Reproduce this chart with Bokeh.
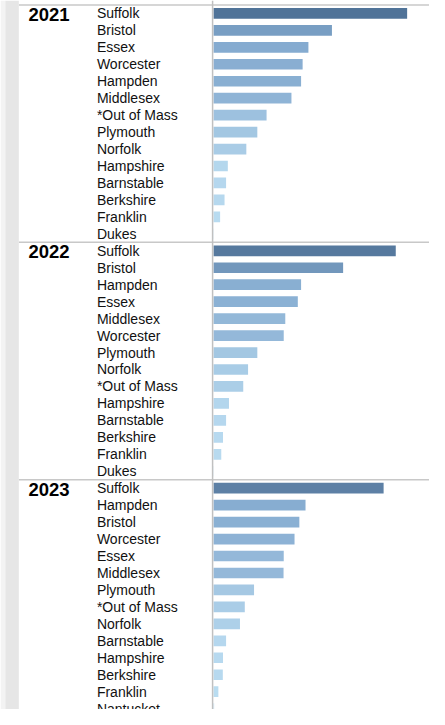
from bokeh.plotting import figure
from bokeh.models import Range1d, ColumnDataSource, Span, BoxAnnotation, LinearColorMapper
from bokeh.transform import transform
from bokeh.embed import file_html
from bokeh.resources import INLINE
from bokeh.core.properties import value

# ---------------- data ----------------
years = ["2021", "2022", "2023"]

counties_2021 = ["Suffolk", "Bristol", "Essex", "Worcester", "Hampden", "Middlesex",
                 "*Out of Mass", "Plymouth", "Norfolk", "Hampshire", "Barnstable",
                 "Berkshire", "Franklin", "Dukes"]
values_2021 = [1004, 614, 492, 462, 454, 404, 275, 227, 170, 74, 65, 57, 34, 1]

counties_2022 = ["Suffolk", "Bristol", "Hampden", "Essex", "Middlesex", "Worcester",
                 "Plymouth", "Norfolk", "*Out of Mass", "Hampshire", "Barnstable",
                 "Berkshire", "Franklin", "Dukes"]
values_2022 = [945, 672, 454, 437, 372, 364, 227, 179, 154, 80, 65, 49, 40, 1]

counties_2023 = ["Suffolk", "Hampden", "Bristol", "Worcester", "Essex", "Middlesex",
                 "Plymouth", "*Out of Mass", "Norfolk", "Barnstable", "Hampshire",
                 "Berkshire", "Franklin", "Nantucket", "Dukes"]
values_2023 = [882, 477, 445, 420, 364, 363, 210, 162, 137, 65, 49, 48, 25, 3, 1]

sections = [(years[0], counties_2021, values_2021),
            (years[1], counties_2022, values_2022),
            (years[2], counties_2023, values_2023)]

# ---------------- build rows ----------------
rows_y, rows_county, rows_value = [], [], []
year_y, year_text, sep_y = [], [], []
offset = 0
for yr, cs, vs in sections:
    year_y.append(offset)
    year_text.append(yr)
    sep_y.append(offset - 0.5)
    for j, (c, v) in enumerate(zip(cs, vs)):
        rows_y.append(offset + j)
        rows_county.append(c)
        rows_value.append(v)
    offset += len(cs)

src = ColumnDataSource(dict(y=rows_y, county=rows_county, value=rows_value))
ysrc = ColumnDataSource(dict(y=year_y, text=year_text))
ssrc = ColumnDataSource(dict(y=sep_y))

# sequential blue palette (light -> dark)
anchors = [(0.0, (188, 222, 242)), (0.5, (132, 170, 207)), (1.0, (80, 115, 152))]
pal = []
for i in range(256):
    t = i / 255
    for (t0, c0), (t1, c1) in zip(anchors[:-1], anchors[1:]):
        if t0 <= t <= t1:
            f = (t - t0) / (t1 - t0)
            rgb = tuple(int(round(a + (b - a) * f)) for a, b in zip(c0, c1))
            break
    pal.append("#%02x%02x%02x" % rgb)
mapper = LinearColorMapper(palette=pal, low=0, high=max(rows_value))

# ---------------- figure ----------------
p = figure(width=429, height=709, output_backend="svg", toolbar_location=None,
           x_range=Range1d(-1105, 1120), y_range=Range1d(41.05, -0.76),
           x_axis_type=None, y_axis_type=None, min_border=0)
p.outline_line_color = None
p.grid.visible = False
p.background_fill_color = "white"
p.border_fill_color = "white"

p.hbar(y="y", left=0, right="value", height=0.63, source=src,
       fill_color=transform("value", mapper), line_color=None)

p.text(x=-605, y="y", text="county", source=src,
       text_font=value("Liberation Sans"), text_font_size="14px",
       text_baseline="middle", text_align="left", text_color="#111111")

p.text(x=-960, y="y", text="text", source=ysrc, y_offset=1,
       text_font=value("Liberation Sans"), text_font_size="18.5px", text_font_style="bold",
       text_baseline="middle", text_align="left", text_color="#000000")

p.segment(x0=-1010, x1=1120, y0="y", y1="y", source=ssrc,
          line_color="#c8c8c8", line_width=1.5)

p.add_layout(Span(location=-5, dimension="height", line_color="#c0c0c0", line_width=1.5))
p.add_layout(BoxAnnotation(left=-1105, right=-1080, fill_color="#f3f3f3", fill_alpha=1,
                           line_color=None))
p.add_layout(BoxAnnotation(left=-1080, right=-1010, fill_color="#e6e6e6", fill_alpha=1,
                           line_color=None))

open("out.html", "w").write(file_html(p, INLINE))
